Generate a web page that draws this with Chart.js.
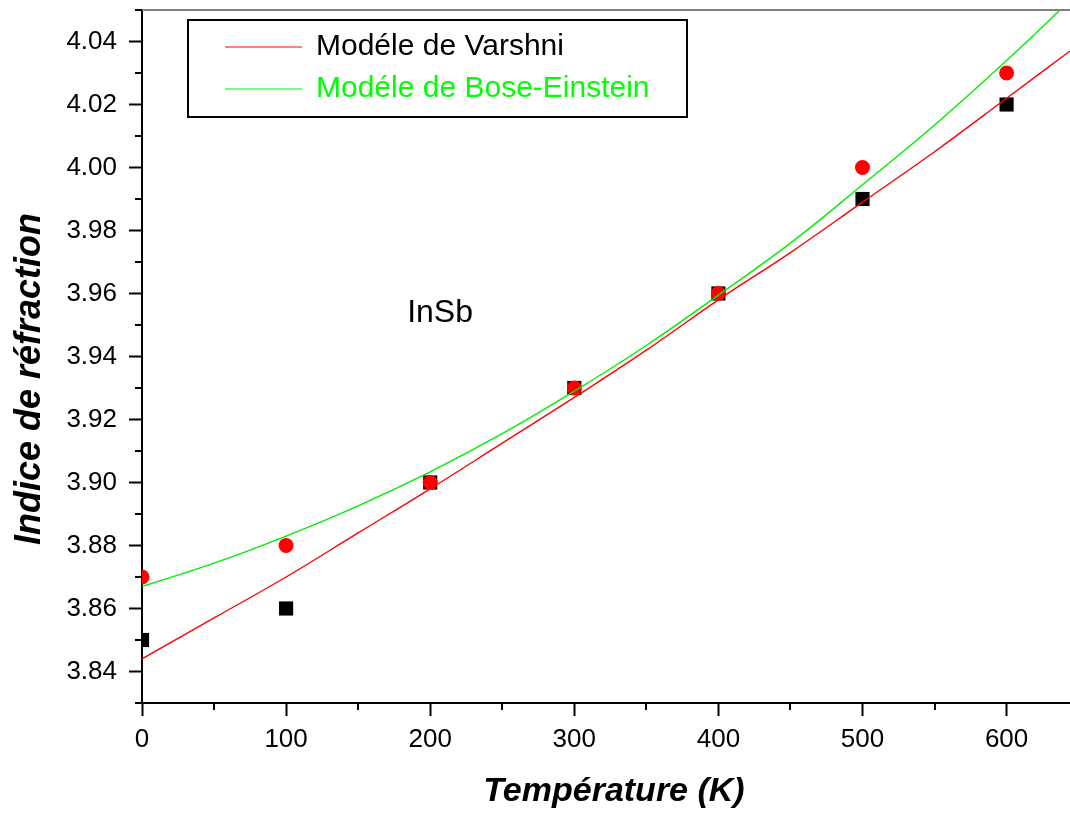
<!DOCTYPE html>
<html>
<head>
<meta charset="utf-8">
<script src="https://cdn.jsdelivr.net/npm/chart.js@4"></script>
<style>
  body { margin: 0; background: #fff; }
  canvas { display: block; }
</style>
</head>
<body>
<canvas id="nChart" width="1070" height="814"></canvas>
<script>
// measured points (K, refractive index)
const temps = [0, 100, 200, 300, 400, 500, 600];
const nSquares = [3.85, 3.86, 3.90, 3.93, 3.96, 3.99, 4.02];
const nCircles = [3.87, 3.88, 3.90, 3.93, 3.96, 4.00, 4.03];

// model curves
const fitT = [0, 50, 100, 150, 200, 250, 300, 350, 400, 450, 500, 550, 600, 644];
const varshni = [3.844, 3.857, 3.870, 3.884, 3.898, 3.9125, 3.927, 3.942, 3.958, 3.973, 3.989, 4.005, 4.022, 4.037];
const boseEinstein = [3.867, 3.8744, 3.883, 3.8926, 3.9034, 3.9155, 3.929, 3.9435, 3.9595, 3.976, 3.9945, 4.0135, 4.034, 4.053];

const legendLabels = ['Modéle de Varshni', 'Modéle de Bose-Einstein'];
const lineColors = ['#ff0000', '#00ee00'];
const labelColors = ['#000000', '#00ff00'];
const xTitle = 'Température (K)';
const yTitle = 'Indice de réfraction';
const sampleName = 'InSb';

const FONT = "'Liberation Sans', Arial, sans-serif";

function pts(xs, ys) {
    return xs.map((x, i) => ({ x: x, y: ys[i] }));
}

// minor ticks, top frame line, legend box, axis titles and sample label
const extras = {
    id: 'extras',
    afterDraw(chart) {
        const ctx = chart.ctx;
        const xs = chart.scales.x, ys = chart.scales.y;
        const area = chart.chartArea;
        ctx.save();
        ctx.strokeStyle = '#000';
        ctx.lineWidth = 2;
        xs.ticks.forEach(t => {
            const v = Math.round(t.value);
            if (v % 100 !== 0 && v % 50 === 0) {
                const px = Math.round(xs.getPixelForValue(t.value));
                ctx.beginPath();
                ctx.moveTo(px, area.bottom);
                ctx.lineTo(px, area.bottom + 7);
                ctx.stroke();
            }
        });
        ys.ticks.forEach(t => {
            const k = Math.round(t.value * 100);
            if (k % 2 !== 0) {
                const py = Math.round(ys.getPixelForValue(t.value));
                ctx.beginPath();
                ctx.moveTo(area.left - 7, py);
                ctx.lineTo(area.left, py);
                ctx.stroke();
            }
        });

        // top frame
        ctx.strokeStyle = '#808080';
        ctx.beginPath();
        ctx.moveTo(area.left, area.top);
        ctx.lineTo(area.right, area.top);
        ctx.stroke();

        // legend
        ctx.strokeStyle = '#000';
        ctx.lineWidth = 2;
        ctx.strokeRect(188, 20, 499, 97);
        const rowY = [47, 89];
        ctx.font = '30px ' + FONT;
        ctx.textBaseline = 'middle';
        ctx.textAlign = 'left';
        legendLabels.forEach((lab, i) => {
            ctx.strokeStyle = lineColors[i];
            ctx.lineWidth = 1.2;
            ctx.beginPath();
            ctx.moveTo(225, rowY[i]);
            ctx.lineTo(302, rowY[i]);
            ctx.stroke();
            ctx.fillStyle = labelColors[i];
            ctx.fillText(lab, 316, rowY[i]);
        });

        // sample label
        ctx.fillStyle = '#000';
        ctx.font = '32px ' + FONT;
        ctx.fillText(sampleName, xs.getPixelForValue(184), ys.getPixelForValue(3.9538));

        // axis titles
        ctx.textAlign = 'center';
        ctx.font = 'italic bold 34px ' + FONT;
        ctx.fillText(xTitle, 614, 792);
        ctx.translate(30, 379);
        ctx.rotate(-Math.PI / 2);
        ctx.font = 'italic bold 36px ' + FONT;
        ctx.fillText(yTitle, 0, 0);
        ctx.restore();
    }
};

new Chart(document.getElementById('nChart').getContext('2d'), {
    type: 'line',
    data: {
        datasets: [
            {
                label: legendLabels[0],
                data: pts(fitT, varshni),
                borderColor: lineColors[0],
                borderWidth: 1.4,
                pointRadius: 0,
                tension: 0.4,
                clip: 0,
                order: 0
            },
            {
                label: legendLabels[1],
                data: pts(fitT, boseEinstein),
                borderColor: lineColors[1],
                borderWidth: 1.4,
                pointRadius: 0,
                tension: 0.4,
                clip: 0,
                order: 0
            },
            {
                label: 'circles',
                data: pts(temps, nCircles),
                showLine: false,
                pointStyle: 'circle',
                pointRadius: 7.5,
                backgroundColor: '#ff0000',
                borderColor: '#ff0000',
                borderWidth: 0,
                clip: 0,
                order: 1
            },
            {
                label: 'squares',
                data: pts(temps, nSquares),
                showLine: false,
                pointStyle: 'rect',
                pointRadius: 10,
                backgroundColor: '#000',
                borderColor: '#000',
                borderWidth: 0,
                clip: 0,
                order: 2
            }
        ]
    },
    options: {
        responsive: false,
        animation: false,
        devicePixelRatio: 1,
        layout: { autoPadding: false, padding: { top: 10, left: 0, right: 0, bottom: 0 } },
        plugins: {
            legend: { display: false },
            tooltip: { enabled: false }
        },
        scales: {
            x: {
                type: 'linear',
                min: 0,
                max: 644,
                afterFit: s => {
                    s.height = 111;
                    s.paddingLeft = 0;
                    s.paddingRight = 0;
                },
                border: { color: '#000', width: 2 },
                grid: {
                    drawOnChartArea: false,
                    tickLength: 13,
                    tickWidth: 2,
                    tickColor: c => (c.tick && Math.round(c.tick.value) % 100 === 0) ? '#000' : 'rgba(0,0,0,0)'
                },
                ticks: {
                    stepSize: 50,
                    includeBounds: false,
                    autoSkip: false,
                    maxRotation: 0,
                    padding: 8,
                    color: '#000',
                    font: { family: FONT, size: 26 },
                    callback: v => (Math.round(v) % 100 === 0) ? String(Math.round(v)) : ''
                }
            },
            y: {
                min: 3.83,
                max: 4.05,
                afterFit: s => {
                    s.width = 142;
                    s.paddingTop = 0;
                    s.paddingBottom = 0;
                },
                border: { color: '#000', width: 2 },
                grid: {
                    drawOnChartArea: false,
                    tickLength: 13,
                    tickWidth: 2,
                    tickColor: c => (c.tick && Math.round(c.tick.value * 100) % 2 === 0) ? '#000' : 'rgba(0,0,0,0)'
                },
                ticks: {
                    stepSize: 0.01,
                    autoSkip: false,
                    padding: 12,
                    color: '#000',
                    font: { family: FONT, size: 26 },
                    callback: v => {
                        const k = Math.round(v * 100);
                        return k % 2 === 0 ? (k / 100).toFixed(2) : '';
                    }
                }
            }
        }
    },
    plugins: [extras]
});
</script>
</body>
</html>
